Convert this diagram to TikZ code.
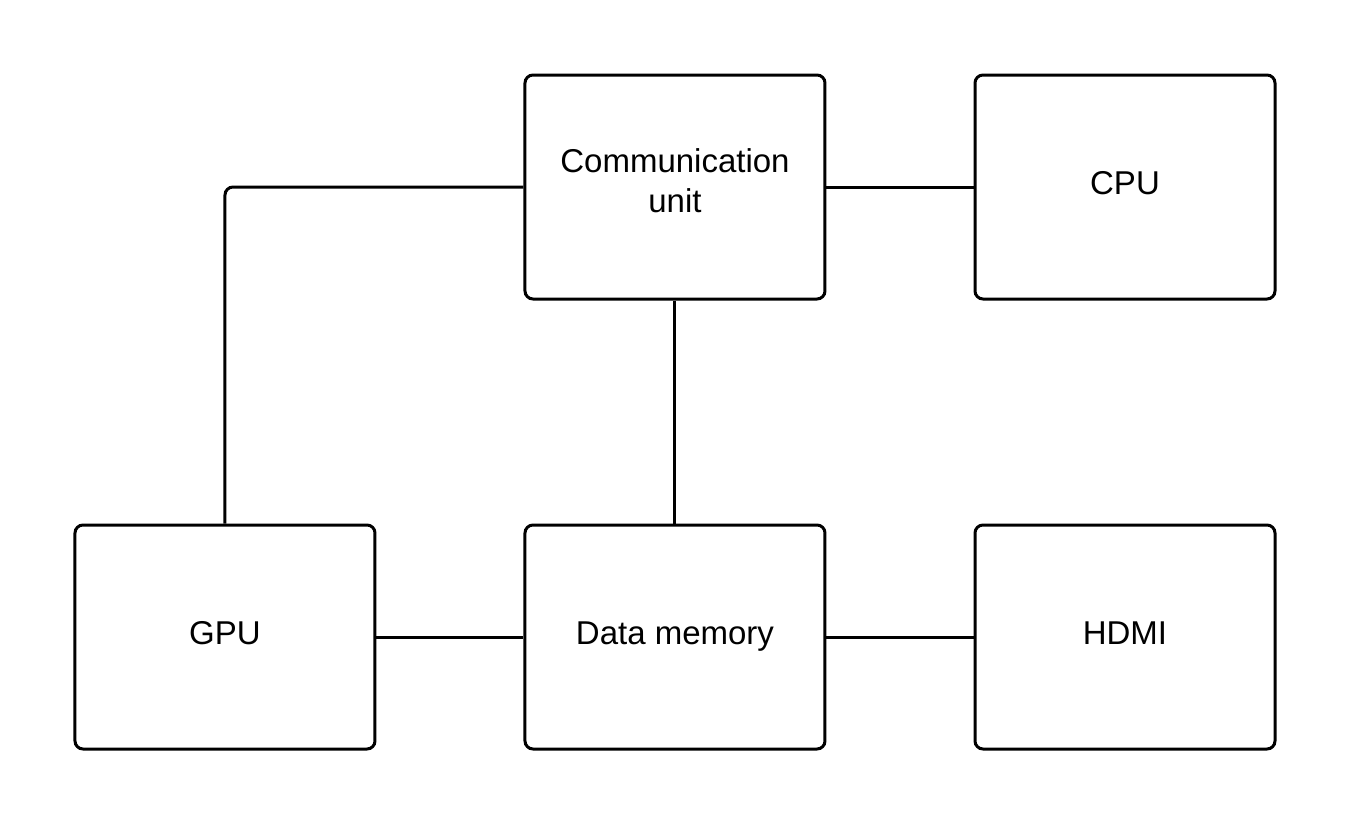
\documentclass[tikz,border=0pt]{standalone}
\usepackage{fontspec}
\setmainfont{Liberation Sans}
\usetikzlibrary{positioning}

\begin{document}
\begin{tikzpicture}[node distance={73.5pt},
    main/.style = {draw, line width=1.5pt, rounded corners=4pt, minimum width=150pt, minimum height=112pt, align=center, text height=12pt, text depth=5pt, font=\fontsize{16.5pt}{20pt}\selectfont},
    link/.style = {line width=1.5pt, rounded corners=4pt}]
            \useasboundingbox (-337.5pt,93.5pt) rectangle (337.5pt,-319pt);

            \node[main, text height=30pt] (comm) at (0,0) {Communication\\unit};
            \node[main] (cpu) [right=of comm] {CPU};

            \node[main] (mem) [below=111.5pt of comm] {Data memory};
            \node[main] (gpu) [left=of mem] {GPU};
            \node[main] (hdmi) [right=of mem] {HDMI};

            \draw[link] (comm) -- (cpu);
            \draw[link] (comm) -- (mem);
            \draw[link] (comm.west) -| (gpu.north);
            \draw[link] (gpu) -- (mem);
            \draw[link] (mem) -- (hdmi);
        \end{tikzpicture}
\end{document}
